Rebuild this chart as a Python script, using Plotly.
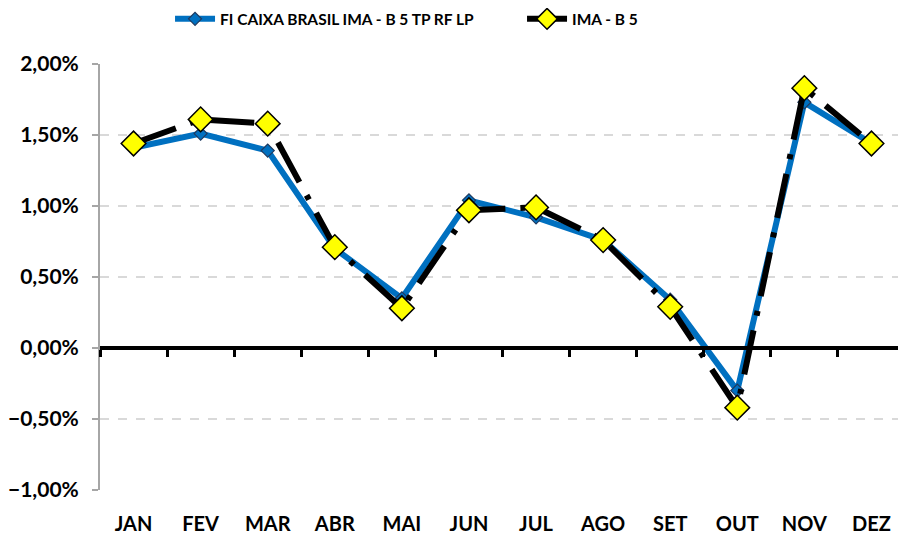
import plotly.graph_objects as go

months = ["JAN", "FEV", "MAR", "ABR", "MAI", "JUN", "JUL", "AGO", "SET", "OUT", "NOV", "DEZ"]
fi_caixa = [0.0141, 0.0151, 0.0139, 0.0070, 0.0035, 0.0104, 0.0092, 0.0076, 0.0034, -0.0030, 0.0173, 0.0144]
ima_b5 = [0.0144, 0.0161, 0.0158, 0.0071, 0.0028, 0.0097, 0.0099, 0.0076, 0.0029, -0.0042, 0.0183, 0.0144]
y_ticks = [-0.01, -0.005, 0.0, 0.005, 0.01, 0.015, 0.02]

FONT = "Lato, Open Sans, sans-serif"

fig = go.Figure()
fig.add_trace(go.Scatter(
    x=months, y=fi_caixa, name="FI CAIXA BRASIL IMA - B 5 TP RF LP",
    mode="lines+markers",
    line=dict(color="#0070C0", width=6),
    marker=dict(symbol="diamond", size=10, color="#0070C0", line=dict(color="#1F3A5F", width=1.2)),
))
fig.add_trace(go.Scatter(
    x=months, y=ima_b5, name="IMA - B 5",
    mode="lines+markers",
    line=dict(color="black", width=6, dash="45px,15px,5px,15px"),
    marker=dict(symbol="diamond", size=19, color="#FFFF00", line=dict(color="black", width=1.5)),
))

# zero axis line with boundary ticks
fig.add_trace(go.Scatter(x=months, y=[0]*12, xaxis="x2", mode="lines",
                         line=dict(width=0), showlegend=False, hoverinfo="skip"))

fig.update_layout(
    width=898, height=527,
    paper_bgcolor="white", plot_bgcolor="white",
    separators=",.",
    margin=dict(l=92, r=1, t=56, b=45, autoexpand=False),
    font=dict(family=FONT, color="black"),
    legend=dict(orientation="h", x=0.087, y=1.105, xanchor="left", yanchor="middle",
                font=dict(size=15.5, family=FONT, weight="bold"),
                entrywidth=297, entrywidthmode="pixels",
                itemwidth=40, bgcolor="rgba(0,0,0,0)"),
    xaxis=dict(type="category", categoryorder="array", categoryarray=months,
               range=[-0.5, 11.5], showgrid=False, showline=False, ticks="",
               tickfont=dict(size=20, family=FONT, weight="bold"), ticklabelstandoff=20),
    xaxis2=dict(type="category", categoryorder="array", categoryarray=months,
                range=[-0.5, 11.5], overlaying="x", anchor="free", position=1/3,
                side="bottom", showline=True, linecolor="black", linewidth=4,
                ticks="outside", tickson="boundaries", ticklen=7, tickwidth=3,
                tickcolor="black", showticklabels=False, showgrid=False, zeroline=False),
    yaxis=dict(range=[-0.01, 0.02], tickvals=y_ticks, tickformat=".2%",
               showgrid=True, gridcolor="#D9D9D9", griddash="dash", gridwidth=1.5,
               zeroline=False, showline=True, linecolor="#A6A6A6", linewidth=2,
               ticks="outside", ticklen=6, tickcolor="#A6A6A6", tickwidth=2,
               ticklabelstandoff=9,
               tickfont=dict(size=21, family=FONT, weight="bold")),
)

fig.write_html("out.html")
